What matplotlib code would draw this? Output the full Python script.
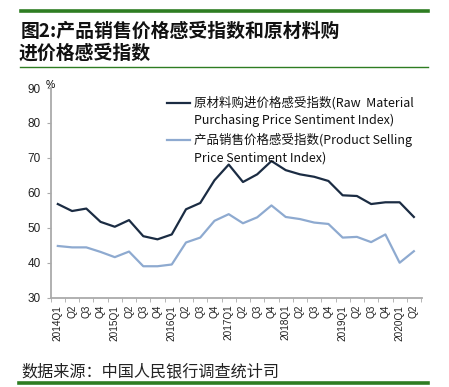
import matplotlib
matplotlib.use("Agg")
import matplotlib.pyplot as plt
from matplotlib.lines import Line2D
import numpy as np

plt.rcParams['font.family'] = ['Noto Sans CJK SC', 'DejaVu Sans']

quarters = ['2014Q1', 'Q2', 'Q3', 'Q4',
            '2015Q1', 'Q2', 'Q3', 'Q4',
            '2016Q1', 'Q2', 'Q3', 'Q4',
            '2017Q1', 'Q2', 'Q3', 'Q4',
            '2018Q1', 'Q2', 'Q3', 'Q4',
            '2019Q1', 'Q2', 'Q3', 'Q4',
            '2020Q1', 'Q2']

# raw material purchasing price sentiment index
raw_material = [56.8, 54.8, 55.5, 51.7, 50.3, 52.2, 47.6, 46.7, 48.1, 55.3, 57.1, 63.6,
                68.1, 63.1, 65.3, 69.1, 66.5, 65.3, 64.6, 63.4, 59.3, 59.1, 56.8, 57.3,
                57.3, 53.1]
# product selling price sentiment index
product_selling = [44.8, 44.4, 44.4, 43.1, 41.6, 43.2, 39.0, 39.0, 39.5, 45.8, 47.2, 52.0,
                   53.9, 51.3, 53.0, 56.4, 53.1, 52.5, 51.5, 51.1, 47.2, 47.4, 45.9, 48.1,
                   40.0, 43.3]

label_raw = ['原材料购进价格感受指数(Raw  Material', 'Purchasing Price Sentiment Index)']
label_prod = ['产品销售价格感受指数(Product Selling', 'Price Sentiment Index)']

dark = '#1b2c43'
light = '#8eaad0'
green = '#2e7d22'

W, H = 449, 387
fig = plt.figure(figsize=(W / 100, H / 100), dpi=100)


def fx(px):
    return px / W


def fy(py):
    return 1 - py / H


ax = fig.add_axes([fx(50.7), fy(297.7), fx(421.7) - fx(50.7), fy(88) - fy(297.7)])
x = np.arange(len(quarters))
ax.plot(x, raw_material, color=dark, lw=1.6)
ax.plot(x, product_selling, color=light, lw=1.6)

ax.set_xlim(-0.45, len(quarters) - 0.45)
ax.set_ylim(30, 90)
ax.set_yticks(range(30, 91, 10))
ax.set_xticks(x)
ax.set_xticklabels(quarters, rotation=90, fontsize=7.2, family='Liberation Sans', color='#222222')
ax.set_xticks(np.arange(-0.5, len(quarters), 1), minor=True)
ax.tick_params(axis='x', which='major', length=0, pad=5)
ax.tick_params(axis='x', which='minor', length=3, color='#aaaaaa', direction='out')
ax.tick_params(axis='y', length=3, color='#aaaaaa', direction='out', labelsize=8.5, pad=4)
for lbl in ax.get_yticklabels():
    lbl.set_family('Liberation Sans')
    lbl.set_color('#222222')
for s in ['top', 'right']:
    ax.spines[s].set_visible(False)
for s in ['left', 'bottom']:
    ax.spines[s].set_color('#aaaaaa')
    ax.spines[s].set_linewidth(1.3)

fig.text(fx(50), fy(85), '%', fontsize=7.5, ha='center', va='center', family='Liberation Sans')

# legend drawn by hand
fig.add_artist(Line2D([fx(167), fx(190)], [fy(103), fy(103)], color=dark, lw=1.6))
fig.add_artist(Line2D([fx(167), fx(190)], [fy(140), fy(140)], color=light, lw=1.6))
for text, ypix in zip(label_raw + label_prod, [103, 120, 140, 158]):
    fig.text(fx(194), fy(ypix), text, fontsize=9, va='center', ha='left', color='#111111')

# title with green rules
fig.add_artist(Line2D([fx(21), fx(428)], [fy(11), fy(11)], color=green, lw=2.6))
fig.text(fx(21), fy(31), '图2:产品销售价格感受指数和原材料购', fontsize=13.6, weight='bold',
         va='center', ha='left', color='#111111')
fig.text(fx(19), fy(53), '进价格感受指数', fontsize=13.6, weight='bold',
         va='center', ha='left', color='#111111')
fig.add_artist(Line2D([fx(20), fx(428)], [fy(67), fy(67)], color=green, lw=1.0))

# source note
fig.text(fx(21), fy(372), '数据来源：中国人民银行调查统计司', fontsize=11.6,
         va='center', ha='left', color='#222222')
fig.add_artist(Line2D([fx(19), fx(428)], [fy(383), fy(383)], color=green, lw=2.6))

fig.savefig('out.png', dpi=100)
